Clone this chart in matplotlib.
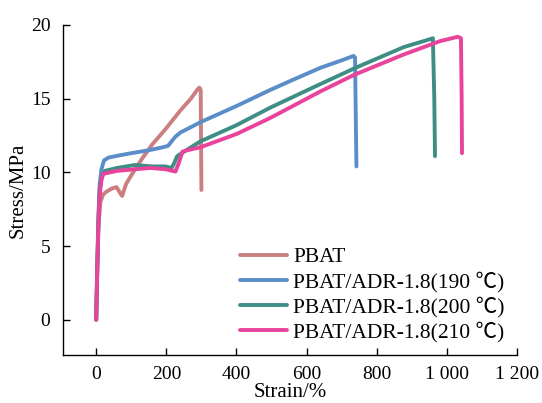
import matplotlib as mpl

mpl.use("Agg")

import matplotlib.pyplot as plt

plt.rcParams["font.family"] = ["Liberation Serif", "Noto Sans CJK SC"]
plt.rcParams["font.size"] = 14

# PBAT
pbat_strain = [0, 3, 7, 12, 20, 30, 45, 58, 68, 74, 85, 100, 130, 160, 200, 240, 270, 288, 294, 298, 299, 300]
pbat_stress = [0, 3.5, 6.5, 8.0, 8.5, 8.7, 8.9, 9.0, 8.6, 8.4, 9.2, 9.8, 10.9, 11.9, 13.0, 14.2, 15.0, 15.6, 15.75, 15.6, 12.0, 8.8]

# PBAT/ADR-1.8 (190)
s190_strain = [0, 3, 6, 10, 15, 22, 35, 55, 100, 150, 190, 205, 215, 225, 240, 297, 400, 497, 563, 640, 700, 734, 738, 740, 742]
s190_stress = [0, 3.5, 6.8, 9.2, 10.2, 10.8, 11.0, 11.1, 11.3, 11.5, 11.7, 11.8, 12.1, 12.4, 12.7, 13.4, 14.5, 15.6, 16.3, 17.1, 17.6, 17.9, 17.8, 14.0, 10.4]

# PBAT/ADR-1.8 (200)
s200_strain = [0, 3, 6, 10, 16, 25, 60, 111, 160, 197, 215, 222, 231, 250, 297, 400, 497, 640, 740, 877, 940, 960, 964, 966]
s200_stress = [0, 3.5, 6.5, 8.8, 9.7, 10.1, 10.3, 10.5, 10.4, 10.4, 10.3, 10.6, 11.1, 11.4, 12.1, 13.2, 14.4, 16.0, 17.1, 18.5, 18.95, 19.1, 15.0, 11.1]

# PBAT/ADR-1.8 (210)
s210_strain = [0, 3, 6, 10, 15, 20, 60, 154, 200, 226, 235, 246, 260, 297, 400, 497, 640, 734, 877, 980, 1031, 1040, 1042, 1043]
s210_stress = [0, 3.2, 6.2, 8.5, 9.5, 9.9, 10.1, 10.3, 10.2, 10.05, 10.6, 11.4, 11.5, 11.7, 12.6, 13.7, 15.5, 16.6, 18.0, 18.9, 19.2, 19.1, 15.0, 11.3]

labels = ["PBAT", "PBAT/ADR-1.8(190 ℃)", "PBAT/ADR-1.8(200 ℃)", "PBAT/ADR-1.8(210 ℃)"]
colors = ["#CC7F80", "#5B8DC9", "#3F8E86", "#E8449B"]

x_ticks = [0, 200, 400, 600, 800, 1000, 1200]
x_tick_labels = ["0", "200", "400", "600", "800", "1 000", "1 200"]
y_ticks = [0, 5, 10, 15, 20]

fig = plt.figure(figsize=(5.42, 4.03), dpi=100)
ax = fig.add_axes([0.116, 0.119, 0.838, 0.819])

series = [
    (pbat_strain, pbat_stress),
    (s190_strain, s190_stress),
    (s200_strain, s200_stress),
    (s210_strain, s210_stress),
]
for (xs, ys), lab, col in zip(series, labels, colors):
    ax.plot(xs, ys, color=col, linewidth=2.8, label=lab,
            solid_capstyle="round", solid_joinstyle="round")

ax.set_xlim(-95, 1200)
ax.set_ylim(-2.4, 20)
ax.set_xticks(x_ticks)
ax.set_xticklabels(x_tick_labels)
ax.set_yticks(y_ticks)
ax.tick_params(direction="in", length=5, width=1.0)
ax.tick_params(axis="x", pad=8)
ax.tick_params(axis="y", pad=9)
for side in ("top", "right"):
    ax.spines[side].set_visible(False)
for side in ("left", "bottom"):
    ax.spines[side].set_linewidth(1.0)

ax.set_xlabel("Strain/%", labelpad=0, fontsize=15)
ax.set_ylabel("Stress/MPa", labelpad=2, fontsize=15)

ax.legend(loc="upper left", bbox_to_anchor=(0.39, 0.327), frameon=False,
          borderpad=0, borderaxespad=0, handlelength=2.2, handletextpad=0.28,
          labelspacing=0.2, fontsize=15.5)

fig.savefig("out.png", dpi=100)
